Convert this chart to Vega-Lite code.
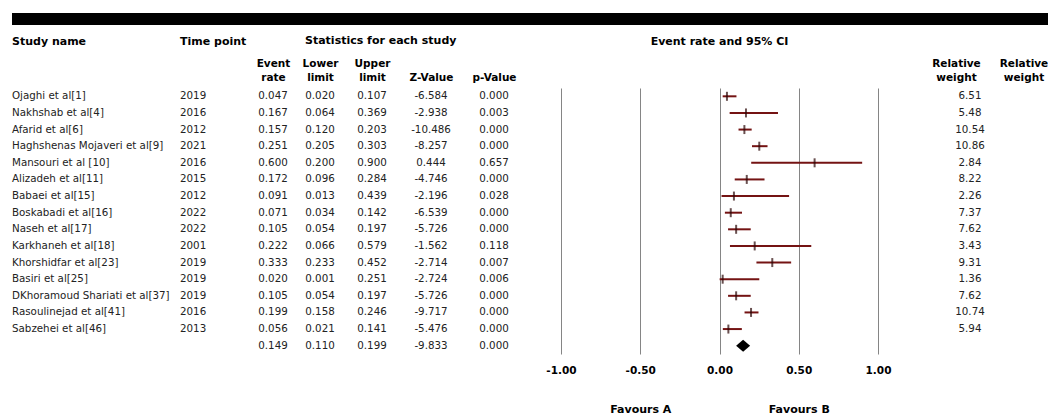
{
  "$schema": "https://vega.github.io/schema/vega-lite/v6.json",
  "padding": {"left": 12, "top": 13, "right": 0, "bottom": 0},
  "background": "white",
  "data": {
    "values": [
      {"study": "Ojaghi et al[1]", "year": "2019", "er": 0.047, "ll": 0.020, "ul": 0.107, "z": -6.584, "p": 0.000, "w": 6.51, "kind": "study"},
      {"study": "Nakhshab et al[4]", "year": "2016", "er": 0.167, "ll": 0.064, "ul": 0.369, "z": -2.938, "p": 0.003, "w": 5.48, "kind": "study"},
      {"study": "Afarid et al[6]", "year": "2012", "er": 0.157, "ll": 0.120, "ul": 0.203, "z": -10.486, "p": 0.000, "w": 10.54, "kind": "study"},
      {"study": "Haghshenas Mojaveri et al[9]", "year": "2021", "er": 0.251, "ll": 0.205, "ul": 0.303, "z": -8.257, "p": 0.000, "w": 10.86, "kind": "study"},
      {"study": "Mansouri et al [10]", "year": "2016", "er": 0.600, "ll": 0.200, "ul": 0.900, "z": 0.444, "p": 0.657, "w": 2.84, "kind": "study"},
      {"study": "Alizadeh et al[11]", "year": "2015", "er": 0.172, "ll": 0.096, "ul": 0.284, "z": -4.746, "p": 0.000, "w": 8.22, "kind": "study"},
      {"study": "Babaei et al[15]", "year": "2012", "er": 0.091, "ll": 0.013, "ul": 0.439, "z": -2.196, "p": 0.028, "w": 2.26, "kind": "study"},
      {"study": "Boskabadi et al[16]", "year": "2022", "er": 0.071, "ll": 0.034, "ul": 0.142, "z": -6.539, "p": 0.000, "w": 7.37, "kind": "study"},
      {"study": "Naseh et al[17]", "year": "2022", "er": 0.105, "ll": 0.054, "ul": 0.197, "z": -5.726, "p": 0.000, "w": 7.62, "kind": "study"},
      {"study": "Karkhaneh et al[18]", "year": "2001", "er": 0.222, "ll": 0.066, "ul": 0.579, "z": -1.562, "p": 0.118, "w": 3.43, "kind": "study"},
      {"study": "Khorshidfar et al[23]", "year": "2019", "er": 0.333, "ll": 0.233, "ul": 0.452, "z": -2.714, "p": 0.007, "w": 9.31, "kind": "study"},
      {"study": "Basiri et al[25]", "year": "2019", "er": 0.020, "ll": 0.001, "ul": 0.251, "z": -2.724, "p": 0.006, "w": 1.36, "kind": "study"},
      {"study": "DKhoramoud Shariati et al[37]", "year": "2019", "er": 0.105, "ll": 0.054, "ul": 0.197, "z": -5.726, "p": 0.000, "w": 7.62, "kind": "study"},
      {"study": "Rasoulinejad et al[41]", "year": "2016", "er": 0.199, "ll": 0.158, "ul": 0.246, "z": -9.717, "p": 0.000, "w": 10.74, "kind": "study"},
      {"study": "Sabzehei et al[46]", "year": "2013", "er": 0.056, "ll": 0.021, "ul": 0.141, "z": -5.476, "p": 0.000, "w": 5.94, "kind": "study"},
      {"study": "", "year": "", "er": 0.149, "ll": 0.110, "ul": 0.199, "z": -9.833, "p": 0.000, "kind": "summary"}
    ]
  },
  "spacing": 10,
  "vconcat": [
    {
      "data": {"values": [{"part": "header bar"}]},
      "width": 1036,
      "height": 12,
      "mark": {"type": "rect", "color": "#000000"},
      "encoding": {
        "x": {"datum": 0, "type": "quantitative", "scale": {"domain": [0, 1]}, "axis": null},
        "x2": {"datum": 1}
      }
    },
    {
      "spacing": 0,
      "bounds": "flush",
      "resolve": {"scale": {"y": "shared"}},
      "hconcat": [
        {
          "width": 168, "height": 266,
          "title": {"text": "Study name", "anchor": "start", "offset": 41},
          "mark": {"type": "text", "align": "left", "fontSize": 10.3, "color": "#222222"},
          "encoding": {
            "x": {"datum": 0, "type": "quantitative", "scale": {"domain": [0, 1]}, "axis": null},
            "y": {"field": "study", "type": "nominal", "sort": null, "axis": null, "scale": {"type": "band", "paddingInner": 0, "paddingOuter": 0}},
            "text": {"field": "study", "type": "nominal"}
          }
        },
        {
          "width": 70, "height": 266,
          "title": {"text": "Time point", "anchor": "start", "offset": 41},
          "mark": {"type": "text", "align": "left", "fontSize": 10.3, "color": "#222222"},
          "encoding": {
            "x": {"datum": 0, "type": "quantitative", "scale": {"domain": [0, 1]}, "axis": null},
            "y": {"field": "study", "type": "nominal", "sort": null, "axis": null, "scale": {"type": "band", "paddingInner": 0, "paddingOuter": 0}},
            "text": {"field": "year", "type": "nominal"}
          }
        },
        {
          "width": 46, "height": 266,
          "mark": {"type": "text", "fontSize": 10.3, "color": "#222222"},
          "encoding": {
            "x": {"datum": "Event rate", "type": "nominal", "axis": {"orient": "top", "title": null, "domain": false, "ticks": false, "labelAngle": 0, "labelFontSize": 10.5, "labelFontWeight": "bold", "labelColor": "#000000", "labelPadding": 20, "labelLineHeight": 14, "labelExpr": "indexof(datum.label, ' ') > 0 ? split(datum.label, ' ') : ['', datum.label]"}},
            "y": {"field": "study", "type": "nominal", "sort": null, "axis": null, "scale": {"type": "band", "paddingInner": 0, "paddingOuter": 0}},
            "text": {"field": "er", "type": "quantitative", "format": ".3f"}
          }
        },
        {
          "width": 48, "height": 266,
          "title": {"text": "Statistics for each study", "anchor": "start", "offset": 12, "dx": 9},
          "mark": {"type": "text", "fontSize": 10.3, "color": "#222222"},
          "encoding": {
            "x": {"datum": "Lower limit", "type": "nominal", "axis": {"orient": "top", "title": null, "domain": false, "ticks": false, "labelAngle": 0, "labelFontSize": 10.5, "labelFontWeight": "bold", "labelColor": "#000000", "labelPadding": 20, "labelLineHeight": 14, "labelExpr": "indexof(datum.label, ' ') > 0 ? split(datum.label, ' ') : ['', datum.label]"}},
            "y": {"field": "study", "type": "nominal", "sort": null, "axis": null, "scale": {"type": "band", "paddingInner": 0, "paddingOuter": 0}},
            "text": {"field": "ll", "type": "quantitative", "format": ".3f"}
          }
        },
        {
          "width": 56, "height": 266,
          "mark": {"type": "text", "fontSize": 10.3, "color": "#222222"},
          "encoding": {
            "x": {"datum": "Upper limit", "type": "nominal", "axis": {"orient": "top", "title": null, "domain": false, "ticks": false, "labelAngle": 0, "labelFontSize": 10.5, "labelFontWeight": "bold", "labelColor": "#000000", "labelPadding": 20, "labelLineHeight": 14, "labelExpr": "indexof(datum.label, ' ') > 0 ? split(datum.label, ' ') : ['', datum.label]"}},
            "y": {"field": "study", "type": "nominal", "sort": null, "axis": null, "scale": {"type": "band", "paddingInner": 0, "paddingOuter": 0}},
            "text": {"field": "ul", "type": "quantitative", "format": ".3f"}
          }
        },
        {
          "width": 62, "height": 266,
          "mark": {"type": "text", "fontSize": 10.3, "color": "#222222"},
          "encoding": {
            "x": {"datum": "Z-Value", "type": "nominal", "axis": {"orient": "top", "title": null, "domain": false, "ticks": false, "labelAngle": 0, "labelFontSize": 10.5, "labelFontWeight": "bold", "labelColor": "#000000", "labelPadding": 20, "labelLineHeight": 14, "labelExpr": "indexof(datum.label, ' ') > 0 ? split(datum.label, ' ') : ['', datum.label]"}},
            "y": {"field": "study", "type": "nominal", "sort": null, "axis": null, "scale": {"type": "band", "paddingInner": 0, "paddingOuter": 0}},
            "text": {"field": "z", "type": "quantitative", "format": ".3f"}
          }
        },
        {
          "width": 64, "height": 266,
          "mark": {"type": "text", "fontSize": 10.3, "color": "#222222"},
          "encoding": {
            "x": {"datum": "p-Value", "type": "nominal", "axis": {"orient": "top", "title": null, "domain": false, "ticks": false, "labelAngle": 0, "labelFontSize": 10.5, "labelFontWeight": "bold", "labelColor": "#000000", "labelPadding": 20, "labelLineHeight": 14, "labelExpr": "indexof(datum.label, ' ') > 0 ? split(datum.label, ' ') : ['', datum.label]"}},
            "y": {"field": "study", "type": "nominal", "sort": null, "axis": null, "scale": {"type": "band", "paddingInner": 0, "paddingOuter": 0}},
            "text": {"field": "p", "type": "quantitative", "format": ".3f"}
          }
        },
        {
          "width": 387, "height": 266,
          "title": {"text": "Event rate and 95% CI", "anchor": "middle", "offset": 41},
          "resolve": {"axis": {"x": "independent"}},
          "layer": [
            {
              "transform": [{"filter": "datum.kind === 'study'"}],
              "mark": {"type": "rule", "color": "#741313", "strokeWidth": 2},
              "encoding": {
                "x": {"field": "ll", "type": "quantitative", "scale": {"domain": [-1.2208, 1.2208], "nice": false, "zero": false},
                      "axis": {"orient": "bottom", "values": [-1, -0.5, 0, 0.5, 1], "format": ".2f", "grid": true, "gridColor": "#858585", "gridWidth": 1, "gridOpacity": 1, "domain": false, "ticks": false, "labelFontWeight": "bold", "labelFontSize": 10.5, "labelColor": "#000000", "labelPadding": 11, "title": null}},
                "x2": {"field": "ul"},
                "y": {"field": "study", "type": "nominal", "sort": null, "axis": null, "scale": {"type": "band", "paddingInner": 0, "paddingOuter": 0}}
              }
            },
            {
              "transform": [{"filter": "datum.kind === 'study'"}],
              "mark": {"type": "tick", "orient": "vertical", "color": "#2a0606", "thickness": 2, "size": 9},
              "encoding": {
                "x": {"field": "er", "type": "quantitative", "axis": null},
                "y": {"field": "study", "type": "nominal", "sort": null, "axis": null, "scale": {"type": "band", "paddingInner": 0, "paddingOuter": 0}}
              }
            },
            {
              "transform": [{"filter": "datum.kind === 'summary'"}],
              "mark": {"type": "point", "shape": "M-1,0L0,-0.85L1,0L0,0.85Z", "filled": true, "color": "#000000", "size": 196, "opacity": 1},
              "encoding": {
                "x": {"field": "er", "type": "quantitative",
                      "axis": {"orient": "bottom", "values": [-0.5, 0.5], "labelExpr": "datum.value < 0 ? 'Favours A' : 'Favours B'", "grid": false, "domain": false, "ticks": false, "labelFontWeight": "bold", "labelFontSize": 11, "labelColor": "#000000", "labelPadding": 0, "offset": 49, "title": null}},
                "y": {"field": "study", "type": "nominal", "sort": null, "axis": null, "scale": {"type": "band", "paddingInner": 0, "paddingOuter": 0}}
              }
            }
          ]
        },
        {
          "width": 86, "height": 266,
          "transform": [{"filter": "isValid(datum.w)"}],
          "mark": {"type": "text", "fontSize": 10.3, "color": "#222222", "dx": 14},
          "encoding": {
            "x": {"datum": "Relative weight", "type": "nominal", "axis": {"orient": "top", "title": null, "domain": false, "ticks": false, "labelAngle": 0, "labelFontSize": 10.5, "labelFontWeight": "bold", "labelColor": "#000000", "labelPadding": 20, "labelLineHeight": 14, "labelExpr": "indexof(datum.label, ' ') > 0 ? split(datum.label, ' ') : ['', datum.label]"}},
            "y": {"field": "study", "type": "nominal", "sort": null, "axis": null, "scale": {"type": "band", "paddingInner": 0, "paddingOuter": 0}},
            "text": {"field": "w", "type": "quantitative", "format": ".2f"}
          }
        },
        {
          "width": 49, "height": 266,
          "transform": [{"filter": "false"}],
          "mark": {"type": "text", "fontSize": 10.3, "color": "#222222"},
          "encoding": {
            "x": {"datum": "Relative weight", "type": "nominal", "axis": {"orient": "top", "title": null, "domain": false, "ticks": false, "labelAngle": 0, "labelFontSize": 10.5, "labelFontWeight": "bold", "labelColor": "#000000", "labelPadding": 20, "labelLineHeight": 14, "labelExpr": "indexof(datum.label, ' ') > 0 ? split(datum.label, ' ') : ['', datum.label]"}},
            "y": {"field": "study", "type": "nominal", "sort": null, "axis": null, "scale": {"type": "band", "paddingInner": 0, "paddingOuter": 0}},
            "text": {"field": "w", "type": "quantitative", "format": ".2f"}
          }
        }
      ]
    }
  ],
  "config": {
    "view": {"stroke": null},
    "font": "DejaVu Sans",
    "text": {"font": "DejaVu Sans"},
    "axis": {"labelFont": "DejaVu Sans"},
    "title": {"font": "DejaVu Sans", "fontSize": 11, "fontWeight": "bold", "color": "#000000"},
    "locale": {"number": {"decimal": ".", "thousands": ",", "grouping": [3], "currency": ["$", ""], "minus": "-"}}
  }
}
